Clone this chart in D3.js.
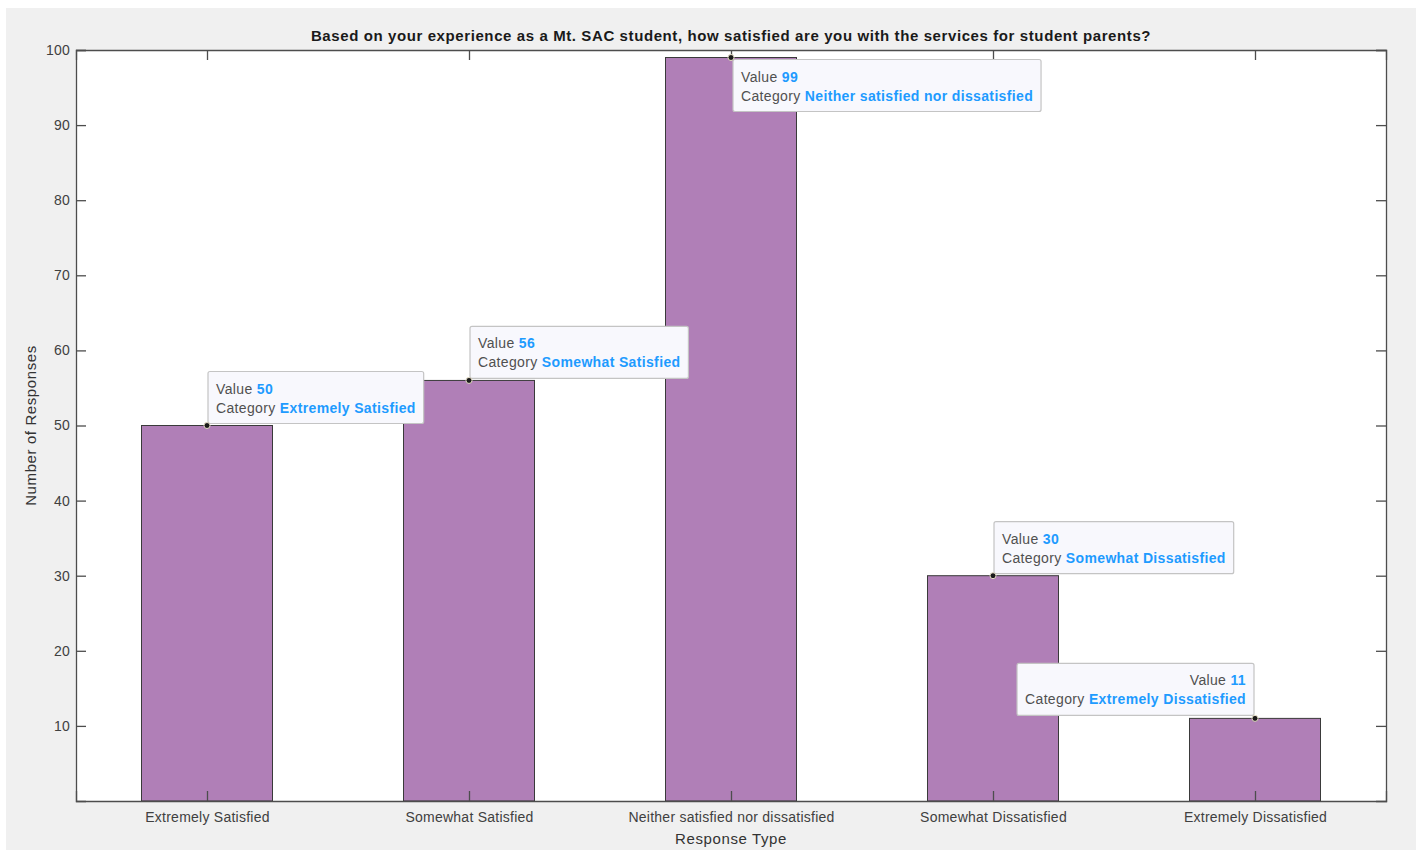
<!DOCTYPE html>
<html>
<head>
<meta charset="utf-8">
<script src="https://cdn.jsdelivr.net/npm/d3@7"></script>
<style>
  html, body { margin: 0; padding: 0; background: #ffffff; }
  svg { display: block; font-family: "Liberation Sans", Arial, Helvetica, sans-serif; }
</style>
</head>
<body>
<svg id="chart" width="1423" height="851"></svg>
<script>
// ---- data ----
const categories = ["Extremely Satisfied", "Somewhat Satisfied", "Neither satisfied nor dissatisfied", "Somewhat Dissatisfied", "Extremely Dissatisfied"];
const values = [50, 56, 99, 30, 11];
const yTicks = [10, 20, 30, 40, 50, 60, 70, 80, 90, 100];
const tipPlacement = ["ne", "ne", "se", "ne", "nw"];
const titleText = "Based on your experience as a Mt. SAC student, how satisfied are you with the services for student parents?";
const xLabel = "Response Type";
const yLabel = "Number of Responses";

// ---- layout ----
const svg = d3.select("#chart");
const plot = { left: 76, right: 1386, top: 50, bottom: 801 };

svg.append("rect").attr("x", 6).attr("y", 8).attr("width", 1410).attr("height", 842).attr("fill", "#f0f0f0");

const x = d3.scaleLinear().domain([0.5, categories.length + 0.5]).range([plot.left, plot.right]);
const y = d3.scaleLinear().domain([0, 100]).range([plot.bottom, plot.top]);
const step = x(2) - x(1);
const barW = step * 0.5;

svg.append("rect")
  .attr("x", plot.left).attr("y", plot.top)
  .attr("width", plot.right - plot.left).attr("height", plot.bottom - plot.top)
  .attr("fill", "#ffffff");

// bars
svg.append("g").selectAll("rect").data(values).join("rect")
  .attr("x", (d, i) => x(i + 1) - barW / 2)
  .attr("y", d => y(d))
  .attr("width", barW)
  .attr("height", d => y(0) - y(d))
  .attr("fill", "#b07fb7")
  .attr("stroke", "#3a3a3a")
  .attr("stroke-width", 1);

const axisColor = "#4d4d4d";
const tickLen = 10;
const catIdx = categories.map((c, i) => i + 1);

// axes
const yAxis = d3.axisLeft(y).tickValues(yTicks).tickSize(-tickLen).tickPadding(6).tickFormat(d3.format("d"));
const gy = svg.append("g").attr("transform", `translate(${plot.left},0)`).call(yAxis);
const yAxisR = d3.axisRight(y).tickValues(yTicks).tickSize(-tickLen).tickFormat("");
const gyr = svg.append("g").attr("transform", `translate(${plot.right},0)`).call(yAxisR);
const xAxis = d3.axisBottom(x).tickValues(catIdx).tickSize(-tickLen).tickPadding(11).tickFormat(d => categories[d - 1]);
const gx = svg.append("g").attr("transform", `translate(0,${plot.bottom})`).call(xAxis);
const xAxisT = d3.axisTop(x).tickValues(catIdx).tickSize(-tickLen).tickFormat("");
const gxt = svg.append("g").attr("transform", `translate(0,${plot.top})`).call(xAxisT);

[gy, gyr, gx, gxt].forEach(g => {
  g.select(".domain").attr("stroke", axisColor).attr("stroke-width", 1.3);
  g.selectAll(".tick line").attr("stroke", axisColor).attr("stroke-width", 1.3);
  g.selectAll(".tick text").attr("fill", "#404040").attr("font-size", 14).attr("letter-spacing", 0.25)
    .attr("font-family", "'Liberation Sans', Arial, sans-serif");
});

// title & labels
svg.append("text").attr("x", (plot.left + plot.right) / 2).attr("y", 41)
  .attr("text-anchor", "middle").attr("font-size", 15).attr("letter-spacing", 0.6).attr("font-weight", "bold").attr("fill", "#1a1a1a")
  .text(titleText);
svg.append("text").attr("x", (plot.left + plot.right) / 2).attr("y", 844)
  .attr("text-anchor", "middle").attr("font-size", 15).attr("letter-spacing", 0.6).attr("fill", "#333333").text(xLabel);
svg.append("text").attr("transform", `translate(36,${(plot.top + plot.bottom) / 2}) rotate(-90)`)
  .attr("text-anchor", "middle").attr("font-size", 15).attr("letter-spacing", 0.6).attr("fill", "#333333").text(yLabel);

// data tips
const tipG = svg.append("g");
values.forEach((v, i) => {
  const px = x(i + 1), py = y(v);
  const place = tipPlacement[i];
  const g = tipG.append("g");
  const rect = g.append("rect").attr("fill", "#f8f8fd").attr("stroke", "#c4c4c4").attr("stroke-width", 1.2).attr("rx", 2);
  const t1 = g.append("text").attr("font-size", 14).attr("letter-spacing", 0.35);
  t1.append("tspan").attr("fill", "#505050").text("Value ");
  t1.append("tspan").attr("fill", "#1e9bff").attr("font-weight", "bold").text(v);
  const t2 = g.append("text").attr("font-size", 14).attr("letter-spacing", 0.35);
  t2.append("tspan").attr("fill", "#505050").text("Category ");
  t2.append("tspan").attr("fill", "#1e9bff").attr("font-weight", "bold").text(categories[i]);
  const w1 = t1.node().getBBox().width;
  const w2 = t2.node().getBBox().width;
  const pad = 8, bw = Math.max(w1, w2) + pad * 2, bh = 52;
  let bx, by;
  if (place === "ne") { bx = px + 1; by = py - 2 - bh; }
  else if (place === "se") { bx = px + 2; by = py + 2; }
  else { bx = px - 1 - bw; by = py - 3 - bh; }
  rect.attr("x", bx).attr("y", by).attr("width", bw).attr("height", bh);
  if (place === "nw") {
    t1.attr("x", bx + bw - pad).attr("text-anchor", "end");
    t2.attr("x", bx + bw - pad).attr("text-anchor", "end");
  } else {
    t1.attr("x", bx + pad);
    t2.attr("x", bx + pad);
  }
  t1.attr("y", by + 22);
  t2.attr("y", by + 41);
  g.append("circle").attr("cx", px).attr("cy", py).attr("r", 3)
    .attr("fill", "#1a1a1a").attr("stroke", "#e8e0c8").attr("stroke-width", 1);
});
</script>
</body>
</html>
